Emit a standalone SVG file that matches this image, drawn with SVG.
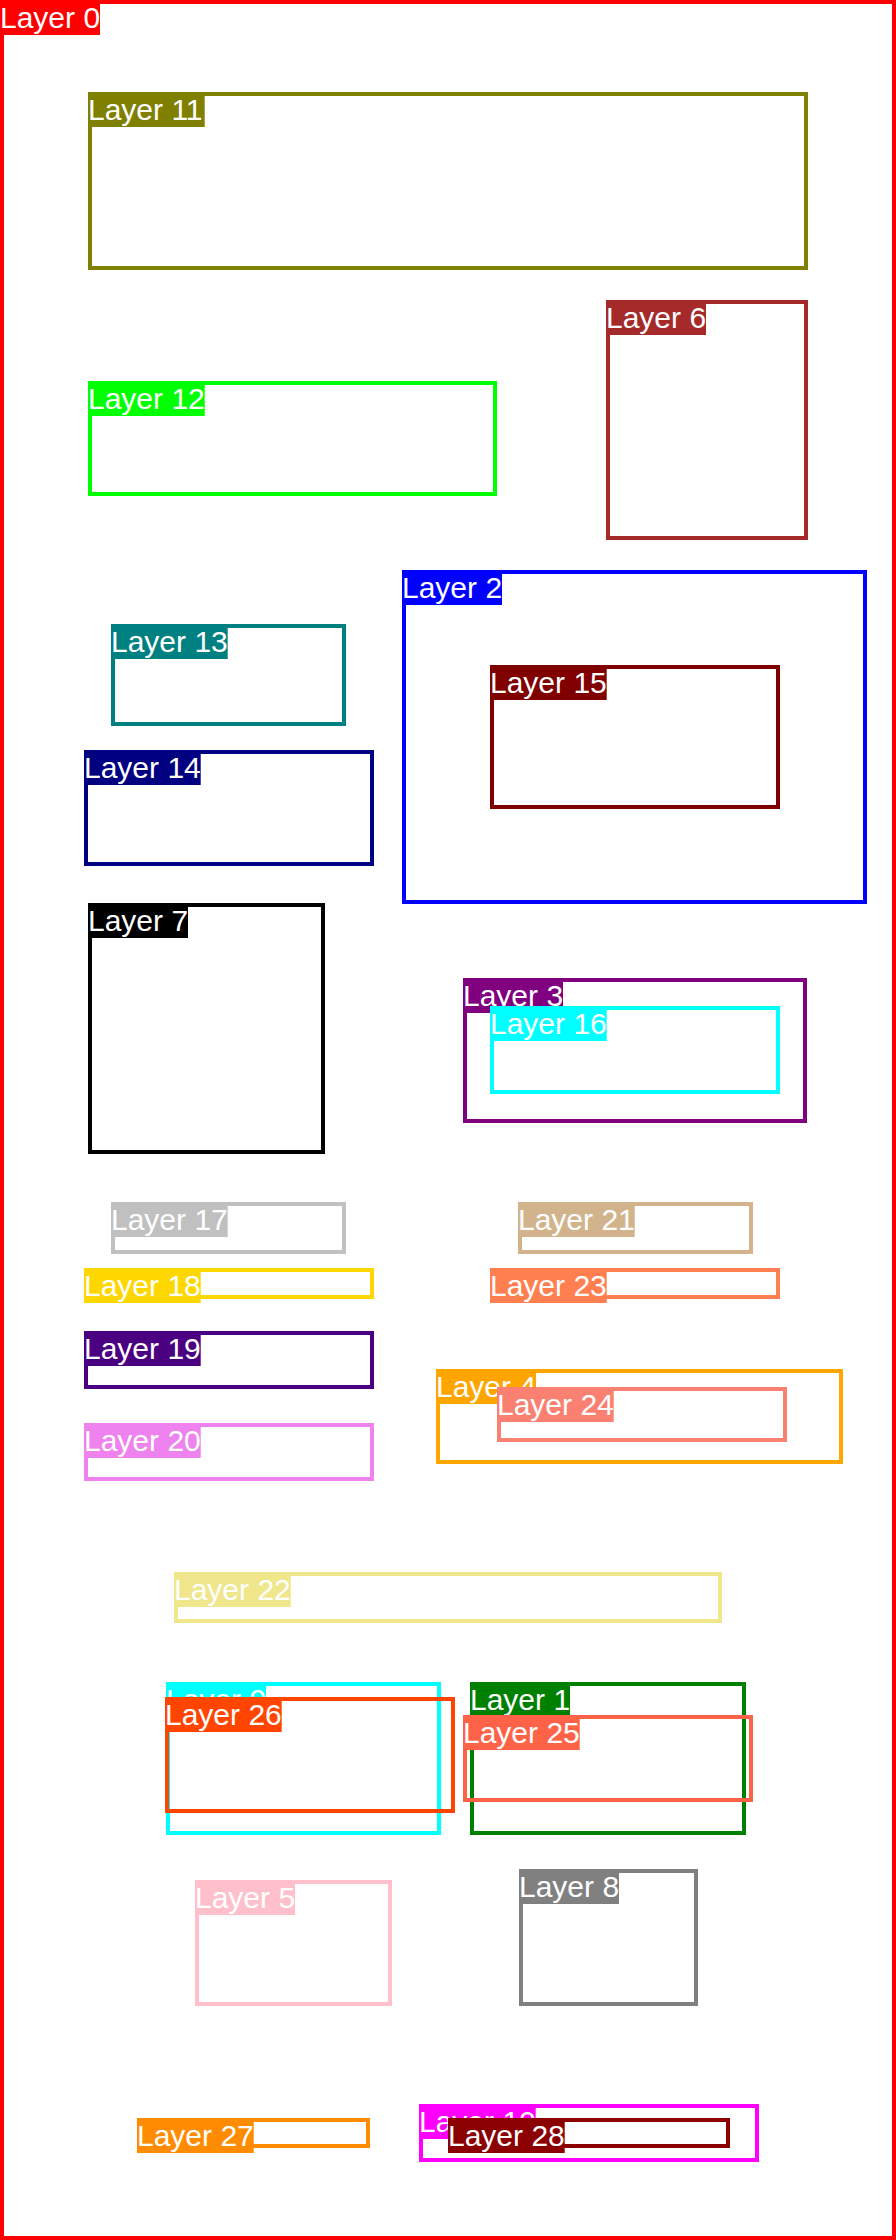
<svg xmlns="http://www.w3.org/2000/svg" width="896" height="2240" viewBox="0 0 896 2240">
<style>
.box{fill:none;stroke-width:4}
.lbl{font-family:"Liberation Sans",Arial,sans-serif;font-size:30px;fill:#ffffff}
</style>
<rect x="0" y="0" width="896" height="2240" fill="#ffffff"/>
<g id="layer-0"><rect class="box" x="2" y="2" width="892" height="2236" stroke="#ff0000"/><rect x="0" y="4" width="100" height="31" fill="#ff0000"/><text class="lbl" x="0" y="28">Layer 0</text></g>
<g id="layer-1"><rect class="box" x="472" y="1684" width="272" height="149" stroke="#008000"/><rect x="470" y="1686" width="100" height="31" fill="#008000"/><text class="lbl" x="470" y="1710">Layer 1</text></g>
<g id="layer-2"><rect class="box" x="404" y="572" width="461" height="330" stroke="#0000ff"/><rect x="402" y="574" width="100" height="31" fill="#0000ff"/><text class="lbl" x="402" y="598">Layer 2</text></g>
<g id="layer-3"><rect class="box" x="465" y="980" width="340" height="141" stroke="#800080"/><rect x="463" y="982" width="100" height="31" fill="#800080"/><text class="lbl" x="463" y="1006">Layer 3</text></g>
<g id="layer-4"><rect class="box" x="438" y="1371" width="403" height="91" stroke="#ffa500"/><rect x="436" y="1373" width="100" height="31" fill="#ffa500"/><text class="lbl" x="436" y="1397">Layer 4</text></g>
<g id="layer-5"><rect class="box" x="197" y="1882" width="193" height="122" stroke="#ffc0cb"/><rect x="195" y="1884" width="100" height="31" fill="#ffc0cb"/><text class="lbl" x="195" y="1908">Layer 5</text></g>
<g id="layer-6"><rect class="box" x="608" y="302" width="198" height="236" stroke="#a52a2a"/><rect x="606" y="304" width="100" height="31" fill="#a52a2a"/><text class="lbl" x="606" y="328">Layer 6</text></g>
<g id="layer-7"><rect class="box" x="90" y="905" width="233" height="247" stroke="#000000"/><rect x="88" y="907" width="100" height="31" fill="#000000"/><text class="lbl" x="88" y="931">Layer 7</text></g>
<g id="layer-8"><rect class="box" x="521" y="1871" width="175" height="133" stroke="#808080"/><rect x="519" y="1873" width="100" height="31" fill="#808080"/><text class="lbl" x="519" y="1897">Layer 8</text></g>
<g id="layer-9"><rect class="box" x="168" y="1684" width="271" height="149" stroke="#00ffff"/><rect x="166" y="1686" width="100" height="31" fill="#00ffff"/><text class="lbl" x="166" y="1710">Layer 9</text></g>
<g id="layer-10"><rect class="box" x="421" y="2106" width="336" height="54" stroke="#ff00ff"/><rect x="419" y="2108" width="116.7" height="31" fill="#ff00ff"/><text class="lbl" x="419" y="2132">Layer 10</text></g>
<g id="layer-11"><rect class="box" x="90" y="94" width="716" height="174" stroke="#808000"/><rect x="88" y="96" width="116.7" height="31" fill="#808000"/><text class="lbl" x="88" y="120">Layer 11</text></g>
<g id="layer-12"><rect class="box" x="90" y="383" width="405" height="111" stroke="#00ff00"/><rect x="88" y="385" width="116.7" height="31" fill="#00ff00"/><text class="lbl" x="88" y="409">Layer 12</text></g>
<g id="layer-13"><rect class="box" x="113" y="626" width="231" height="98" stroke="#008080"/><rect x="111" y="628" width="116.7" height="31" fill="#008080"/><text class="lbl" x="111" y="652">Layer 13</text></g>
<g id="layer-14"><rect class="box" x="86" y="752" width="286" height="112" stroke="#000080"/><rect x="84" y="754" width="116.7" height="31" fill="#000080"/><text class="lbl" x="84" y="778">Layer 14</text></g>
<g id="layer-15"><rect class="box" x="492" y="667" width="286" height="140" stroke="#800000"/><rect x="490" y="669" width="116.7" height="31" fill="#800000"/><text class="lbl" x="490" y="693">Layer 15</text></g>
<g id="layer-16"><rect class="box" x="492" y="1008" width="286" height="84" stroke="#00ffff"/><rect x="490" y="1010" width="116.7" height="31" fill="#00ffff"/><text class="lbl" x="490" y="1034">Layer 16</text></g>
<g id="layer-17"><rect class="box" x="113" y="1204" width="231" height="48" stroke="#c0c0c0"/><rect x="111" y="1206" width="116.7" height="31" fill="#c0c0c0"/><text class="lbl" x="111" y="1230">Layer 17</text></g>
<g id="layer-18"><rect class="box" x="86" y="1270" width="286" height="27" stroke="#ffd700"/><rect x="84" y="1272" width="116.7" height="31" fill="#ffd700"/><text class="lbl" x="84" y="1296">Layer 18</text></g>
<g id="layer-19"><rect class="box" x="86" y="1333" width="286" height="54" stroke="#4b0082"/><rect x="84" y="1335" width="116.7" height="31" fill="#4b0082"/><text class="lbl" x="84" y="1359">Layer 19</text></g>
<g id="layer-20"><rect class="box" x="86" y="1425" width="286" height="54" stroke="#ee82ee"/><rect x="84" y="1427" width="116.7" height="31" fill="#ee82ee"/><text class="lbl" x="84" y="1451">Layer 20</text></g>
<g id="layer-21"><rect class="box" x="520" y="1204" width="231" height="48" stroke="#d2b48c"/><rect x="518" y="1206" width="116.7" height="31" fill="#d2b48c"/><text class="lbl" x="518" y="1230">Layer 21</text></g>
<g id="layer-22"><rect class="box" x="176" y="1574" width="544" height="47" stroke="#f0e68c"/><rect x="174" y="1576" width="116.7" height="31" fill="#f0e68c"/><text class="lbl" x="174" y="1600">Layer 22</text></g>
<g id="layer-23"><rect class="box" x="492" y="1270" width="286" height="27" stroke="#ff7f50"/><rect x="490" y="1272" width="116.7" height="31" fill="#ff7f50"/><text class="lbl" x="490" y="1296">Layer 23</text></g>
<g id="layer-24"><rect class="box" x="499" y="1389" width="286" height="51" stroke="#fa8072"/><rect x="497" y="1391" width="116.7" height="31" fill="#fa8072"/><text class="lbl" x="497" y="1415">Layer 24</text></g>
<g id="layer-25"><rect class="box" x="465" y="1717" width="286" height="83" stroke="#ff6347"/><rect x="463" y="1719" width="116.7" height="31" fill="#ff6347"/><text class="lbl" x="463" y="1743">Layer 25</text></g>
<g id="layer-26"><rect class="box" x="167" y="1699" width="286" height="112" stroke="#ff4500"/><rect x="165" y="1701" width="116.7" height="31" fill="#ff4500"/><text class="lbl" x="165" y="1725">Layer 26</text></g>
<g id="layer-27"><rect class="box" x="139" y="2120" width="229" height="26" stroke="#ff8c00"/><rect x="137" y="2122" width="116.7" height="31" fill="#ff8c00"/><text class="lbl" x="137" y="2146">Layer 27</text></g>
<g id="layer-28"><rect class="box" x="450" y="2120" width="278" height="26" stroke="#8b0000"/><rect x="448" y="2122" width="116.7" height="31" fill="#8b0000"/><text class="lbl" x="448" y="2146">Layer 28</text></g>
</svg>
